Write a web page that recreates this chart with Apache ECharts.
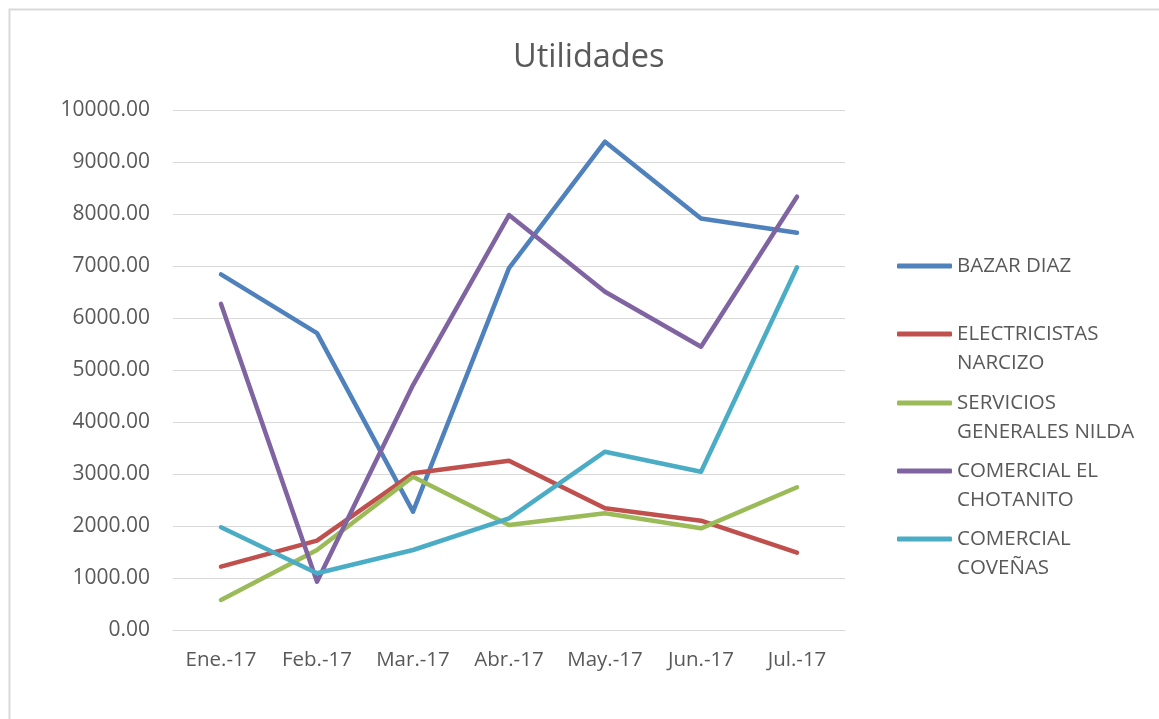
<!DOCTYPE html>
<html>
<head>
<meta charset="utf-8">
<script src="https://cdn.jsdelivr.net/npm/echarts@6/dist/echarts.min.js"></script>
<style>
html,body{margin:0;padding:0;background:#fff;}
#c{width:1159px;height:719px;}
</style>
</head>
<body>
<div id="c"></div>
<script>
const categories = ['Ene.-17','Feb.-17','Mar.-17','Abr.-17','May.-17','Jun.-17','Jul.-17'];
const bazarDiaz = [6850, 5720, 2285, 6970, 9400, 7925, 7650];
const electricistasNarcizo = [1227, 1727, 3023, 3265, 2350, 2112, 1497];
const serviciosGeneralesNilda = [587, 1548, 2958, 2029, 2254, 1965, 2754];
const comercialElChotanito = [6280, 938, 4720, 7990, 6515, 5458, 8342];
const comercialCovenas = [1985, 1100, 1548, 2158, 3438, 3054, 6985];
const seriesNames = ['BAZAR DIAZ','ELECTRICISTAS NARCIZO','SERVICIOS GENERALES NILDA','COMERCIAL EL CHOTANITO','COMERCIAL COVEÑAS'];
const legendLabels = ['BAZAR DIAZ','ELECTRICISTAS\nNARCIZO','SERVICIOS\nGENERALES NILDA','COMERCIAL EL\nCHOTANITO','COMERCIAL\nCOVEÑAS'];
const seriesData = [bazarDiaz, electricistasNarcizo, serviciosGeneralesNilda, comercialElChotanito, comercialCovenas];
const colors = ['#4F81BD','#C0504D','#9BBB59','#8064A2','#4BACC6'];

const FONT = '"Open Sans", sans-serif';
const TXT = '#595959';
const LH = 29;
const legendCenters = [266, 334, 403, 471, 539];

const chart = echarts.init(document.getElementById('c'), null, {renderer:'canvas'});
const legends = seriesNames.map((n, i) => {
  const multi = legendLabels[i].indexOf('\n') >= 0;
  const lines = multi ? 3 : 1;
  return {
    left: 897,
    top: legendCenters[i] - lines * LH / 2,
    orient: 'vertical',
    padding: 0,
    itemWidth: 55,
    itemHeight: 5,
    itemGap: 0,
    icon: 'roundRect',
    data: [{name: n}],
    formatter: () => multi ? '{e|}\n' + legendLabels[i].split('\n').map(s => '{t|' + s + '}').join('\n') : legendLabels[i],
    textStyle: {
      fontFamily: FONT, fontSize: 20.5, color: TXT, lineHeight: LH,
      rich: {
        e: {fontFamily: FONT, fontSize: 20.5, lineHeight: LH, height: LH},
        t: {fontFamily: FONT, fontSize: 20.5, color: TXT, lineHeight: LH, height: LH}
      }
    }
  };
});

chart.setOption({
  animation: false,
  color: colors,
  title: {
    text: 'Utilidades', left: 513, top: 41,
    textStyle: {fontFamily: FONT, fontSize: 32.5, fontWeight: 'normal', color: TXT},
    padding: 0
  },
  legend: legends,
  grid: {left: 173, right: 314, top: 110.5, bottom: 88.5, containLabel: false},
  xAxis: {
    type: 'category', data: categories, boundaryGap: true,
    axisLine: {show: true, lineStyle: {color: '#D9D9D9', width: 1}},
    axisTick: {show: false},
    axisLabel: {fontFamily: FONT, fontSize: 20.5, color: TXT, margin: 19, interval: 0}
  },
  yAxis: {
    type: 'value', min: 0, max: 10000, interval: 1000,
    axisLine: {show: false}, axisTick: {show: false},
    splitLine: {lineStyle: {color: '#D9D9D9', width: 1}},
    axisLabel: {fontFamily: FONT, fontSize: 21, color: TXT, margin: 23,
      formatter: v => v.toFixed(2)}
  },
  graphic: [{
    type: 'polyline', silent: true,
    shape: {points: [[9.5, 719], [9.5, 9.5], [1159, 9.5]]},
    style: {stroke: '#D9D9D9', lineWidth: 2, fill: null}
  }],
  series: seriesNames.map((n, i) => ({
    name: n, type: 'line', data: seriesData[i],
    symbol: 'none', showSymbol: false,
    lineStyle: {width: 4.5, color: colors[i], cap: 'round', join: 'round'},
    itemStyle: {color: colors[i]}
  }))
});
</script>
</body>
</html>
